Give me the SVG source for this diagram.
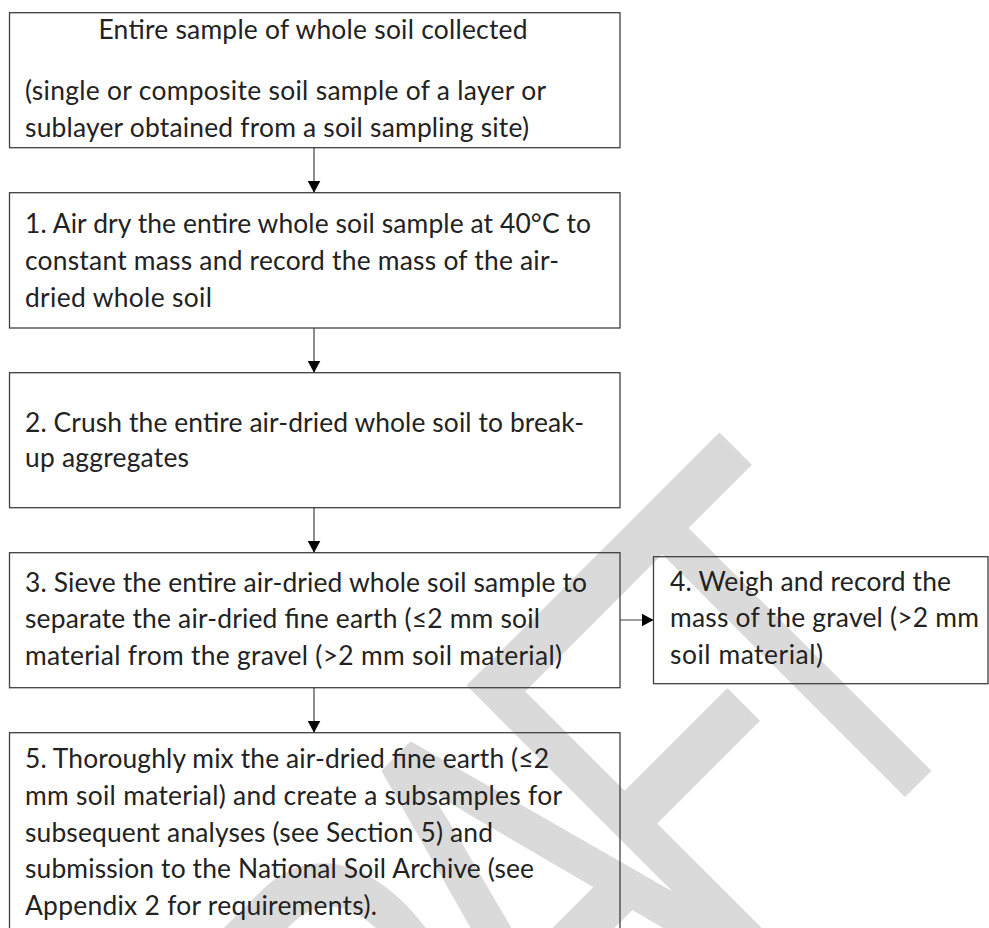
<svg xmlns="http://www.w3.org/2000/svg" width="989" height="928" viewBox="0 0 989 928">
<style>
.box{fill:none;stroke:#404040;stroke-width:1.3}
.t{font-family:Lato,"Liberation Sans",sans-serif;font-size:26.4px;fill:#222}
.conn{stroke:#404040;stroke-width:1.2;fill:none}
.wm{font-family:"Liberation Sans",Arial,sans-serif;font-size:561px;fill:#dadada;stroke:#dadada;stroke-width:3;stroke-linejoin:round}
</style>
<defs>
<marker id="ah" markerUnits="userSpaceOnUse" markerWidth="12" markerHeight="13" viewBox="0 0 12 13" refX="12" refY="6.5" orient="auto">
<path d="M0,0 L12,6.5 L0,13 z" fill="#000"/>
</marker>
</defs>
<rect width="989" height="928" fill="#fff"/>
<g id="watermark">
<text class="wm" transform="translate(272.2,1427.7) rotate(-45) scale(0.675,1)" x="0 322.5 645 936.5 1180" y="0">DRAFT</text>
</g>
<g id="connectors">
<line class="conn" x1="314" y1="148" x2="314" y2="192.7" marker-end="url(#ah)"/>
<line class="conn" x1="314" y1="328" x2="314" y2="372.7" marker-end="url(#ah)"/>
<line class="conn" x1="314" y1="508" x2="314" y2="552.7" marker-end="url(#ah)"/>
<line class="conn" x1="314" y1="688" x2="314" y2="732.7" marker-end="url(#ah)"/>
<line class="conn" x1="620" y1="620" x2="653.5" y2="620" marker-end="url(#ah)"/>
</g>
<g id="n0">
<rect class="box" x="9.5" y="12.7" width="610.5" height="135"/>
<text class="t" x="98.5" y="39" textLength="429">Entire sample of whole soil collected</text>
<text class="t" x="25" y="100" textLength="521">(single or composite soil sample of a layer or</text>
<text class="t" x="25" y="137" textLength="504">sublayer obtained from a soil sampling site)</text>
</g>
<g id="n1">
<rect class="box" x="9.5" y="192.7" width="610.5" height="135.3"/>
<text class="t" x="25" y="233.3" textLength="566">1. Air dry the entire whole soil sample at 40°C to</text>
<text class="t" x="25" y="270" textLength="534">constant mass and record the mass of the air-</text>
<text class="t" x="25" y="306.7" textLength="187">dried whole soil</text>
</g>
<g id="n2">
<rect class="box" x="9.5" y="372.7" width="610.5" height="135"/>
<text class="t" x="25" y="431.7" textLength="559">2. Crush the entire air-dried whole soil to break-</text>
<text class="t" x="25" y="466.7" textLength="164">up aggregates</text>
</g>
<g id="n3">
<rect class="box" x="9.5" y="552.7" width="610.5" height="135"/>
<text class="t" x="25" y="591.7" textLength="562">3. Sieve the entire air-dried whole soil sample to</text>
<text class="t" x="25" y="628.3" textLength="515">separate the air-dried fine earth (≤2 mm soil</text>
<text class="t" x="25" y="665" textLength="537">material from the gravel (&gt;2 mm soil material)</text>
</g>
<g id="n4">
<rect class="box" x="653.5" y="556.7" width="334.5" height="127"/>
<text class="t" x="670" y="590.7" textLength="281">4. Weigh and record the</text>
<text class="t" x="670" y="627" textLength="309">mass of the gravel (&gt;2 mm</text>
<text class="t" x="670" y="663.5" textLength="153">soil material)</text>
</g>
<g id="n5">
<rect class="box" x="9.5" y="732.7" width="610.5" height="200"/>
<text class="t" x="25" y="768.3" textLength="524">5. Thoroughly mix the air-dried fine earth (≤2</text>
<text class="t" x="25" y="805" textLength="537">mm soil material) and create a subsamples for</text>
<text class="t" x="25" y="841.7" textLength="468">subsequent analyses (see Section 5) and</text>
<text class="t" x="25" y="878.3" textLength="509">submission to the National Soil Archive (see</text>
<text class="t" x="25" y="915" textLength="352">Appendix 2 for requirements).</text>
</g>
</svg>
